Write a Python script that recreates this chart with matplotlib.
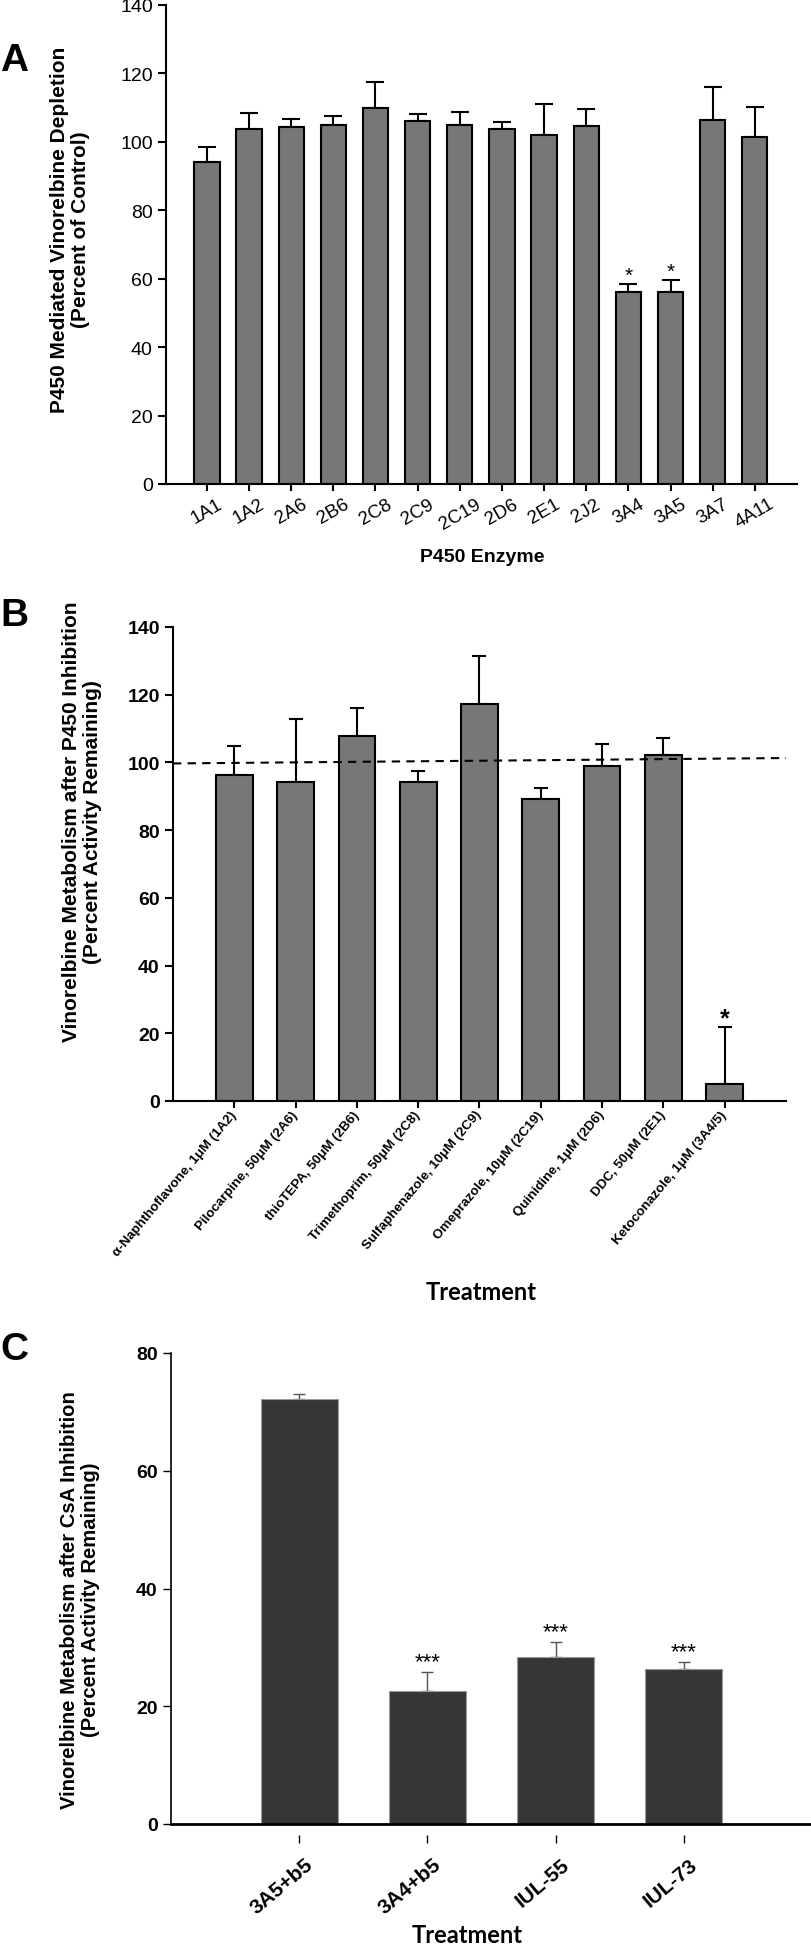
import numpy as np
import matplotlib
matplotlib.use('Agg')
import matplotlib.pyplot as plt

plt.rcParams['font.family'] = ['Liberation Sans', 'DejaVu Sans']

# ---- panel A: P450 enzyme screen
enzymes = ['1A1', '1A2', '2A6', '2B6', '2C8', '2C9', '2C19', '2D6', '2E1', '2J2',
           '3A4', '3A5', '3A7', '4A11']
depletion = [94.0, 103.7, 104.2, 105.0, 110.0, 106.2, 105.0, 103.9, 101.9, 104.6,
             56.2, 56.2, 106.5, 101.5]
depletion_err = [4.4, 4.8, 2.4, 2.7, 7.4, 1.9, 3.8, 1.8, 9.3, 5.0, 2.3, 3.5, 9.5, 8.6]
signif_a = ['', '', '', '', '', '', '', '', '', '', '*', '*', '', '']

# ---- panel B: chemical inhibitors
treatments = ['\u03b1-Naphthoflavone, 1\u03bcM (1A2)', 'Pilocarpine, 50\u03bcM (2A6)',
              'thioTEPA, 50\u03bcM (2B6)', 'Trimethoprim, 50\u03bcM (2C8)',
              'Sulfaphenazole, 10\u03bcM (2C9)', 'Omeprazole, 10\u03bcM (2C19)',
              'Quinidine, 1\u03bcM (2D6)', 'DDC, 50\u03bcM (2E1)',
              'Ketoconazole, 1\u03bcM (3A4/5)']
remaining = [96.2, 94.3, 107.9, 94.3, 117.2, 89.2, 99.0, 102.1, 5.1]
remaining_err = [8.7, 18.6, 8.3, 3.1, 14.1, 3.2, 6.5, 5.2, 16.7]
signif_b = ['', '', '', '', '', '', '', '', '*']
ref_line = [99.7, 101.3]   # dashed 100% line, slightly tilted in the original

# ---- panel C: CsA inhibition
systems = ['3A5+b5', '3A4+b5', 'IUL-55', 'IUL-73']
csa_remaining = [72.2, 22.6, 28.4, 26.3]
csa_err = [0.8, 3.2, 2.5, 1.2]
signif_c = ['', '***', '***', '***']

W, H = 812, 1949
fig = plt.figure(figsize=(W / 100, H / 100), dpi=100)


def box(l, t, r, b):
    return [l / W, 1 - b / H, (r - l) / W, (b - t) / H]


def ftext(x, y, s, **kw):
    fig.text(x / W, 1 - y / H, s, **kw)


# ================= A
axA = fig.add_axes(box(166, 6, 797, 485))
x = np.arange(len(enzymes))
axA.bar(x, depletion, width=0.6, color='#777777', edgecolor='black', linewidth=1.5, zorder=2)
axA.errorbar(x, depletion, yerr=[np.zeros(len(x)), depletion_err], fmt='none',
             ecolor='black', elinewidth=1.5, capsize=6.5, capthick=1.5, zorder=1)
for i, s in enumerate(signif_a):
    if s:
        axA.text(i, depletion[i] + depletion_err[i] + 0.8, s, ha='center', va='baseline',
                 fontsize=15)
axA.set_xlim(-0.97, 14.0)
axA.set_ylim(0, 140)
axA.set_yticks(range(0, 141, 20))
axA.set_xticks(x)
axA.set_xticklabels(enzymes, rotation=30, ha='center', fontsize=13.5)
axA.tick_params(axis='y', labelsize=14, length=6, width=1.5)
axA.tick_params(axis='x', length=5, width=1.5, pad=3)
for sp in ['top', 'right']:
    axA.spines[sp].set_visible(False)
for sp in ['left', 'bottom']:
    axA.spines[sp].set_linewidth(1.5)

ftext(70, 230, 'P450 Mediated Vinorelbine Depletion\n(Percent of Control)', rotation=90,
      ha='center', va='center', ma='center', fontsize=15, fontweight='bold', linespacing=1.1)
ftext(482, 557, 'P450 Enzyme', ha='center', va='center', fontsize=14, fontweight='bold')
ftext(0, 61, 'A', ha='left', va='center', fontsize=28, fontweight='bold')

# ================= B
axB = fig.add_axes(box(173, 628, 786, 1102))
xb = np.arange(len(treatments))
axB.bar(xb, remaining, width=0.6, color='#777777', edgecolor='black', linewidth=1.5, zorder=2)
axB.errorbar(xb, remaining, yerr=[np.zeros(len(xb)), remaining_err], fmt='none',
             ecolor='black', elinewidth=1.5, capsize=5, capthick=1.5, zorder=1)
axB.plot([-1, 9], ref_line, color='black', lw=1.5, ls=(0, (4, 3)), zorder=3, clip_on=False)
for i, s in enumerate(signif_b):
    if s:
        axB.text(i, remaining[i] + remaining_err[i] + 0.6, s, ha='center', va='baseline',
                 fontsize=18, fontweight='bold')
axB.set_xlim(-1, 9)
axB.set_ylim(0, 140)
axB.set_yticks(range(0, 141, 20))
axB.set_xticks(xb)
axB.set_xticklabels(treatments, rotation=50, ha='right', va='center', rotation_mode='anchor',
                    fontsize=9.6, fontweight='bold')
for lab in axB.get_yticklabels():
    lab.set_fontweight('bold')
axB.tick_params(axis='y', labelsize=14, length=6, width=1.5)
axB.tick_params(axis='x', length=5, width=1.5, pad=3)
for sp in ['top', 'right']:
    axB.spines[sp].set_visible(False)
for sp in ['left', 'bottom']:
    axB.spines[sp].set_linewidth(1.5)

ftext(82, 822, 'Vinorelbine Metabolism after P450 Inhibition\n(Percent Activity Remaining)',
      rotation=90, ha='center', va='center', ma='center', fontsize=15, fontweight='bold',
      linespacing=1.1)
ftext(481, 1293, 'Treatment', ha='center', va='center', fontsize=17, fontweight='bold',
      family=['Lato', 'DejaVu Sans'])
ftext(0, 616, 'B', ha='left', va='center', fontsize=28, fontweight='bold')

# ================= C
axC = fig.add_axes(box(171, 1354, 812, 1825))
# detached x ticks: move the (hidden) bottom spine down
axC.spines['bottom'].set_position(('outward', 8))
axC.spines['bottom'].set_visible(False)
xc = np.arange(len(systems))
axC.bar(xc, csa_remaining, width=0.6, color='#363636', edgecolor='#9a9a9a', linewidth=0.8,
        zorder=2)
axC.errorbar(xc, csa_remaining, yerr=[np.zeros(len(xc)), csa_err], fmt='none',
             ecolor='#555555', elinewidth=1, capsize=4.5, capthick=1, zorder=1)
for i, s in enumerate(signif_c):
    if s:
        axC.text(i, csa_remaining[i] + csa_err[i] + 0.8, s, ha='center', va='baseline',
                 fontsize=16)
axC.axhline(0, color='black', lw=2, zorder=3, clip_on=False)
axC.set_xlim(-1, 4)
axC.set_ylim(0, 80)
axC.set_yticks(range(0, 81, 20))
axC.set_xticks(xc)
axC.set_xticklabels([])
for i, name in enumerate(systems):
    axC.annotate(name, xy=(i, 0), xycoords=('data', 'axes fraction'),
                 xytext=(8, -27), textcoords='offset points', rotation=40,
                 ha='right', va='center', rotation_mode='anchor',
                 fontsize=15, fontweight='bold', annotation_clip=False)
for lab in axC.get_yticklabels():
    lab.set_fontweight('bold')
axC.tick_params(axis='y', labelsize=14, length=6, width=1)
axC.tick_params(axis='x', length=6, width=1)
for sp in ['top', 'right']:
    axC.spines[sp].set_visible(False)
axC.spines['left'].set_linewidth(1.2)

ftext(80, 1600, 'Vinorelbine Metabolism after CsA Inhibition\n(Percent Activity Remaining)',
      rotation=90, ha='center', va='center', ma='center', fontsize=14.6, fontweight='bold',
      linespacing=1.1)
ftext(467, 1947, 'Treatment', ha='center', va='bottom', fontsize=17, fontweight='bold',
      family=['Lato', 'DejaVu Sans'])
ftext(0, 1350, 'C', ha='left', va='center', fontsize=28, fontweight='bold')

fig.savefig('out.png', dpi=100)
